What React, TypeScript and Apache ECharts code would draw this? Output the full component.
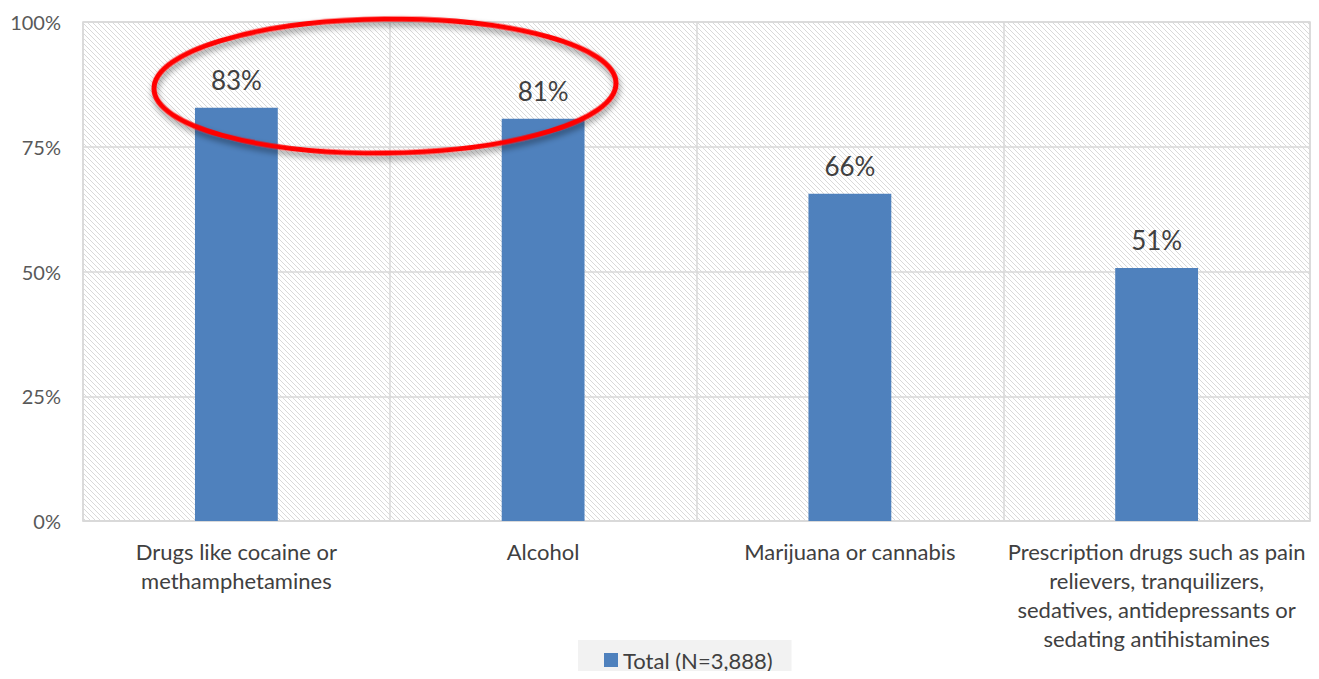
import React, { useEffect, useRef } from "react";
import * as echarts from "echarts";

const categories = [
  "Drugs like cocaine or\nmethamphetamines",
  "Alcohol",
  "Marijuana or cannabis",
  "Prescription drugs such as pain\nrelievers, tranquilizers,\nsedatives, antidepressants or\nsedating antihistamines",
];
const totalValues = [82.8, 80.6, 65.6, 50.7];
const seriesName = "Total (N=3,888)";
const yTicks = { min: 0, max: 100, interval: 25 };

function makePattern(): HTMLCanvasElement {
  const c = document.createElement("canvas");
  const n = 10;
  c.width = n;
  c.height = n;
  const ctx = c.getContext("2d")!;
  ctx.fillStyle = "#ffffff";
  ctx.fillRect(0, 0, n, n);
  ctx.fillStyle = "#d9d9d9";
  for (let i = 0; i < n; i++) {
    for (let k = 0; k < n; k += 5) {
      const y = (i + k) % n;
      ctx.fillRect(i, y, 1, 1);
    }
  }
  return c;
}

export default function App() {
  const ref = useRef<HTMLDivElement>(null);
  useEffect(() => {
    if (!ref.current) return;
    const chart = echarts.init(ref.current, undefined, { renderer: "svg" });
    const font = "Lato, 'Open Sans', sans-serif";
    chart.setOption({
      animation: false,
      textStyle: { fontFamily: font },
      grid: {
        left: 83,
        right: 9,
        top: 22,
        bottom: 158,
        show: true,
        backgroundColor: { image: makePattern(), repeat: "repeat" },
        borderColor: "#d9d9d9",
        borderWidth: 1.5,
      },
      legend: {
        top: 640,
        left: 578,
        data: [seriesName],
        icon: "rect",
        itemWidth: 14,
        itemHeight: 14,
        backgroundColor: "#f2f2f2",
        padding: [9, 19, 8, 26],
        textStyle: { fontSize: 22, color: "#404040", fontFamily: font },
      },
      xAxis: {
        type: "category",
        data: categories,
        axisTick: { show: false },
        axisLine: { lineStyle: { color: "#d9d9d9", width: 1.5 } },
        splitLine: { show: true, lineStyle: { color: "#d9d9d9", width: 1.5 } },
        axisLabel: {
          fontSize: 22,
          color: "#404040",
          lineHeight: 29,
          margin: 16,
          interval: 0,
          fontFamily: font,
        },
      },
      yAxis: {
        type: "value",
        min: yTicks.min,
        max: yTicks.max,
        interval: yTicks.interval,
        axisLine: { show: false },
        axisTick: { show: false },
        splitLine: { lineStyle: { color: "#d9d9d9", width: 1.5 } },
        axisLabel: {
          formatter: "{value}%",
          fontSize: 20,
          color: "#595959",
          margin: 22,
          fontFamily: font,
        },
      },
      series: [
        {
          name: seriesName,
          type: "bar",
          data: totalValues,
          barWidth: "27%",
          itemStyle: { color: "#4f81bd" },
          label: {
            show: true,
            position: "top",
            distance: 15,
            fontSize: 26,
            color: "#404040",
            fontFamily: font,
            formatter: (p: any) => Math.round(p.value) + "%",
          },
        },
      ],
      graphic: [
        {
          type: "ellipse",
          z: 100,
          rotation: 0.012,
          x: 385,
          y: 86,
          shape: { cx: 0, cy: 0, rx: 231, ry: 67 },
          style: {
            fill: "none",
            stroke: "#ff0000",
            lineWidth: 5,
            shadowBlur: 6,
            shadowColor: "rgba(0,0,0,0.45)",
            shadowOffsetY: 4,
            shadowOffsetX: 1,
          },
        },
      ],
    });
    return () => chart.dispose();
  }, []);
  return <div ref={ref} style={{ width: 1319, height: 679, margin: -8 }} />;
}
